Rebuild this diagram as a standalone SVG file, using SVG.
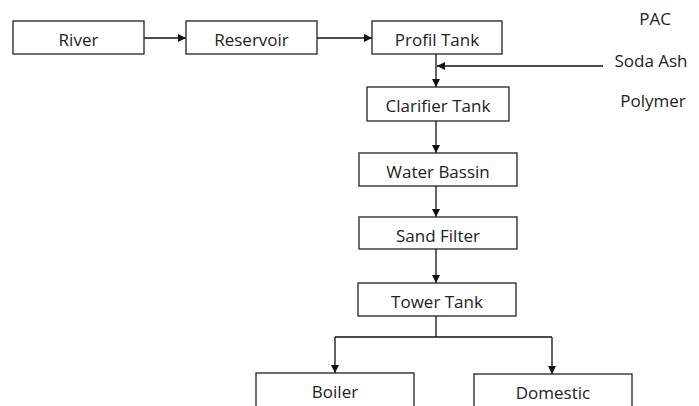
<svg xmlns="http://www.w3.org/2000/svg" width="699" height="406" viewBox="0 0 699 406">
<style>
.box{fill:#fff;stroke:#222;stroke-width:1.3}
.lbl{font-family:"Open Sans","Noto Sans","Liberation Sans",sans-serif;font-size:17px;fill:#222;text-anchor:middle}
.ln{fill:none;stroke:#111;stroke-width:1.3}
</style>
<defs>
<marker id="ah" viewBox="0 0 10 10" refX="10" refY="5" markerWidth="8" markerHeight="8" markerUnits="userSpaceOnUse" orient="auto">
<path d="M0,0 L10,5 L0,10 z" fill="#111"/>
</marker>
</defs>
<rect width="699" height="406" fill="#fff"/>
<g id="connectors">
<line class="ln" x1="144" y1="38" x2="186" y2="38" marker-end="url(#ah)"/>
<line class="ln" x1="317" y1="38" x2="372" y2="38" marker-end="url(#ah)"/>
<line class="ln" x1="436" y1="54" x2="436" y2="87" marker-end="url(#ah)"/>
<line class="ln" x1="603" y1="66" x2="437" y2="66" marker-end="url(#ah)"/>
<line class="ln" x1="436" y1="121" x2="436" y2="153" marker-end="url(#ah)"/>
<line class="ln" x1="436" y1="186" x2="436" y2="217" marker-end="url(#ah)"/>
<line class="ln" x1="436" y1="249" x2="436" y2="283" marker-end="url(#ah)"/>
<path class="ln" d="M436,316 V337 M335,337 H552"/>
<line class="ln" x1="335" y1="337" x2="335" y2="373" marker-end="url(#ah)"/>
<line class="ln" x1="552" y1="337" x2="552" y2="374" marker-end="url(#ah)"/>
</g>
<g id="river"><rect class="box" x="13" y="21" width="131" height="33"/><text class="lbl" x="78.5" y="46">River</text></g>
<g id="reservoir"><rect class="box" x="186" y="21" width="131" height="33"/><text class="lbl" x="251.5" y="46">Reservoir</text></g>
<g id="profil-tank"><rect class="box" x="372" y="21" width="130" height="33"/><text class="lbl" x="437" y="46">Profil Tank</text></g>
<g id="clarifier-tank"><rect class="box" x="367" y="87" width="142" height="34"/><text class="lbl" x="438" y="112">Clarifier Tank</text></g>
<g id="water-bassin"><rect class="box" x="359" y="153" width="158" height="33"/><text class="lbl" x="438" y="178">Water Bassin</text></g>
<g id="sand-filter"><rect class="box" x="359" y="217" width="158" height="32"/><text class="lbl" x="438" y="241.5">Sand Filter</text></g>
<g id="tower-tank"><rect class="box" x="358" y="283" width="158" height="33"/><text class="lbl" x="437" y="308">Tower Tank</text></g>
<g id="boiler"><rect class="box" x="256" y="373" width="158" height="40"/><text class="lbl" x="335" y="398">Boiler</text></g>
<g id="domestic"><rect class="box" x="474" y="374" width="158" height="40"/><text class="lbl" x="553" y="399">Domestic</text></g>
<g id="pac"><text class="lbl" x="655" y="25">PAC</text></g>
<g id="soda-ash"><text class="lbl" x="651" y="67">Soda Ash</text></g>
<g id="polymer"><text class="lbl" x="653" y="107">Polymer</text></g>
</svg>
